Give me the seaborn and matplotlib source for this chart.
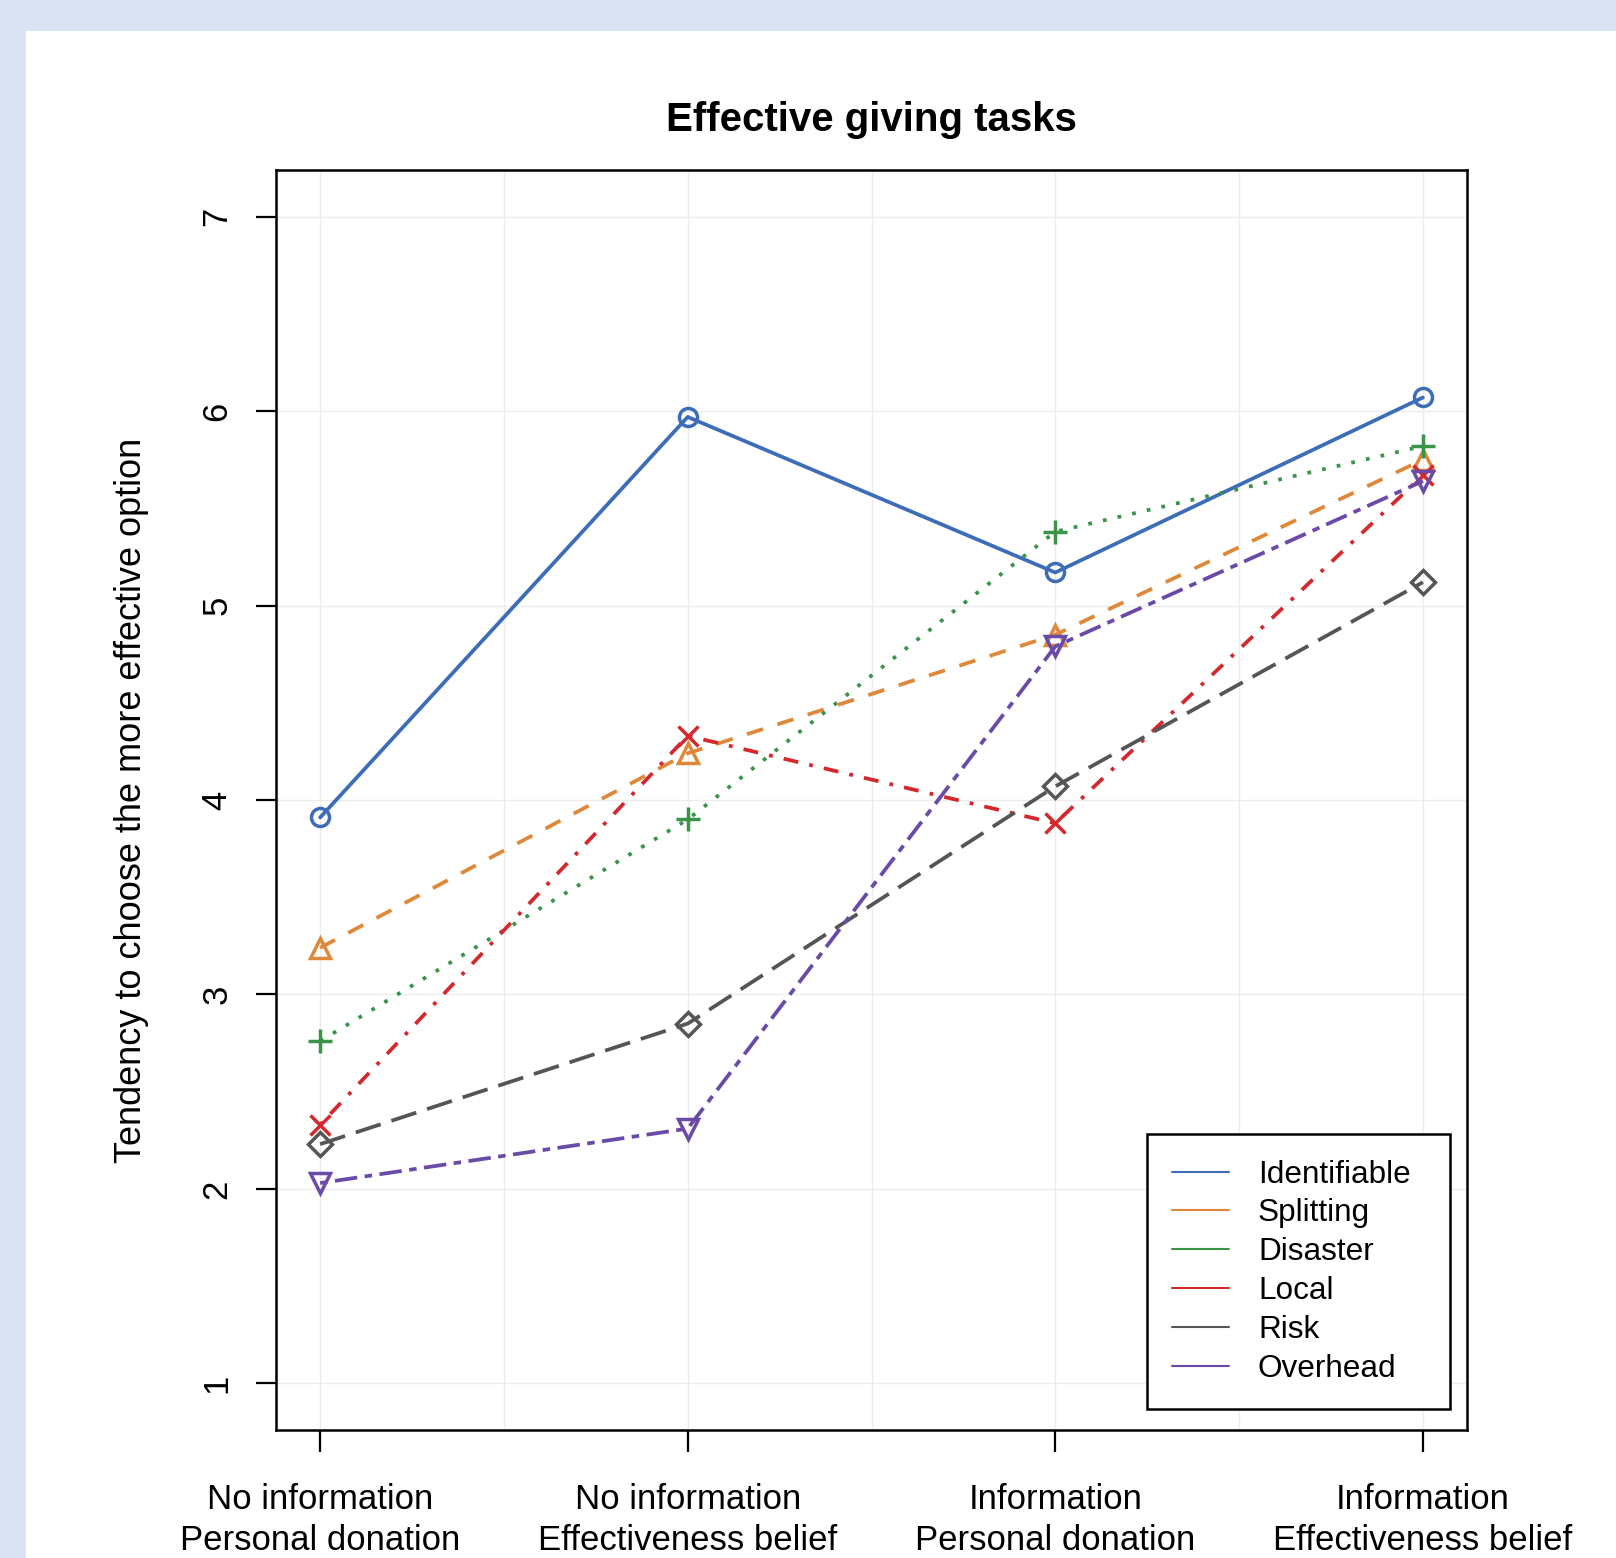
import matplotlib
matplotlib.use("Agg")
import matplotlib.pyplot as plt
from matplotlib.lines import Line2D
from matplotlib.patches import Rectangle
import pandas as pd
import seaborn as sns

# Conditions along the x axis
conditions = [
    "No information\nPersonal donation",
    "No information\nEffectiveness belief",
    "Information\nPersonal donation",
    "Information\nEffectiveness belief",
]
condition_pos = [1, 2, 3, 4]

# Mean tendency to choose the more effective option, per task
identifiable = [3.91, 5.97, 5.17, 6.07]
splitting = [3.24, 4.24, 4.85, 5.75]
disaster = [2.76, 3.90, 5.38, 5.82]
local = [2.33, 4.33, 3.88, 5.67]
risk = [2.23, 2.85, 4.07, 5.12]
overhead = [2.03, 2.31, 4.79, 5.64]

task_names = ["Identifiable", "Splitting", "Disaster", "Local", "Risk", "Overhead"]
task_values = [identifiable, splitting, disaster, local, risk, overhead]

y_ticks = [1, 2, 3, 4, 5, 6, 7]

colors = ["#3d6db8", "#e0883a", "#3a9448", "#d4282c", "#555555", "#6a4aa8"]
markers = ["o", "^", "+", "x", "D", "v"]
marker_sizes = [13, 15, 17, 15, 12.5, 15]
# R-style line types: solid, dashed, dotted, dotdash, longdash, twodash
dash_styles = [
    "-",
    (0, (4.5, 4)),
    (0, (1, 3)),
    (0, (1, 3, 4, 3)),
    (0, (7, 3)),
    (0, (2, 2, 6, 2)),
]

records = []
for name, vals in zip(task_names, task_values):
    for x, v in zip(condition_pos, vals):
        records.append({"task": name, "condition": x, "tendency": v})
df = pd.DataFrame(records)

sns.set_style("white")
plt.rcParams["font.family"] = ["Liberation Sans", "DejaVu Sans"]
plt.rcParams["text.color"] = "black"
plt.rcParams["xtick.color"] = "black"
plt.rcParams["ytick.color"] = "black"

FS_AXIS = 25
FS_LABEL = 26
FS_LEGEND = 22.7

fig = plt.figure(figsize=(16.16, 15.58), dpi=100)
fig.patch.set_facecolor("#dae3f3")
fig.patches.append(
    Rectangle((26 / 1616, 0), 1, 1 - 31 / 1558, transform=fig.transFigure,
              facecolor="white", edgecolor="none", zorder=-10)
)

ax = fig.add_axes([276 / 1616, 1 - 1430 / 1558, (1467 - 276) / 1616, (1430 - 170) / 1558])
ax.set_zorder(1)
ax.set_facecolor("white")

for name, col, mk, ms, ls in zip(task_names, colors, markers, marker_sizes, dash_styles):
    sub = df[df["task"] == name]
    sns.lineplot(
        data=sub, x="condition", y="tendency", ax=ax,
        color=col, linestyle=ls, linewidth=2.7,
        marker=mk, markersize=ms,
        markerfacecolor="none", markeredgecolor=col, markeredgewidth=2.5,
        legend=False, zorder=3,
    )

ax.set_xlim(0.88, 4.12)
ax.set_ylim(0.76, 7.24)
ax.set_xticks(condition_pos)
ax.set_xticks([1.5, 2.5, 3.5], minor=True)
ax.set_xticklabels(conditions, fontsize=FS_AXIS, linespacing=1.3, color="black")
ax.set_yticks(y_ticks)
ax.set_yticklabels([str(t) for t in y_ticks], fontsize=FS_AXIS, rotation=90,
                   va="center", color="black")
ax.tick_params(axis="x", which="major", bottom=True, length=16, width=1.6,
               pad=22, color="black")
ax.tick_params(axis="x", which="minor", bottom=False, length=0)
ax.tick_params(axis="y", which="major", left=True, length=14.5, width=1.6,
               pad=16, color="black")
ax.grid(True, axis="x", which="both", color="#ececec", linewidth=1.0, zorder=0)
ax.grid(True, axis="y", which="major", color="#ececec", linewidth=1.0, zorder=0)
ax.set_axisbelow(True)
for sp in ax.spines.values():
    sp.set_visible(True)
    sp.set_color("black")
    sp.set_linewidth(1.8)

ax.set_xlabel("")
ax.set_ylabel("")
fig.text(132 / 1616, 1 - 800 / 1558, "Tendency to choose the more effective option",
         rotation=90, ha="center", va="center", fontsize=FS_LABEL, color="black")
ax.set_title("Effective giving tasks", fontsize=29, fontweight="bold", pad=28,
             color="black")

handles = [Line2D([0], [0], color=c, linewidth=1.5) for c in colors]
leg = ax.legend(
    handles, task_names, loc="lower left",
    bbox_to_anchor=(0.7313, 0.0167, 0.2544, 0.2), mode="expand",
    fontsize=FS_LEGEND, frameon=True, fancybox=False, framealpha=1, edgecolor="black",
    borderpad=0.8, labelspacing=0.28, handlelength=1.8, handletextpad=0.92,
    borderaxespad=0,
)
leg.get_frame().set_linewidth(1.8)
for t in leg.get_texts():
    t.set_color("black")

fig.savefig("out.png", dpi=100, facecolor=fig.get_facecolor())
